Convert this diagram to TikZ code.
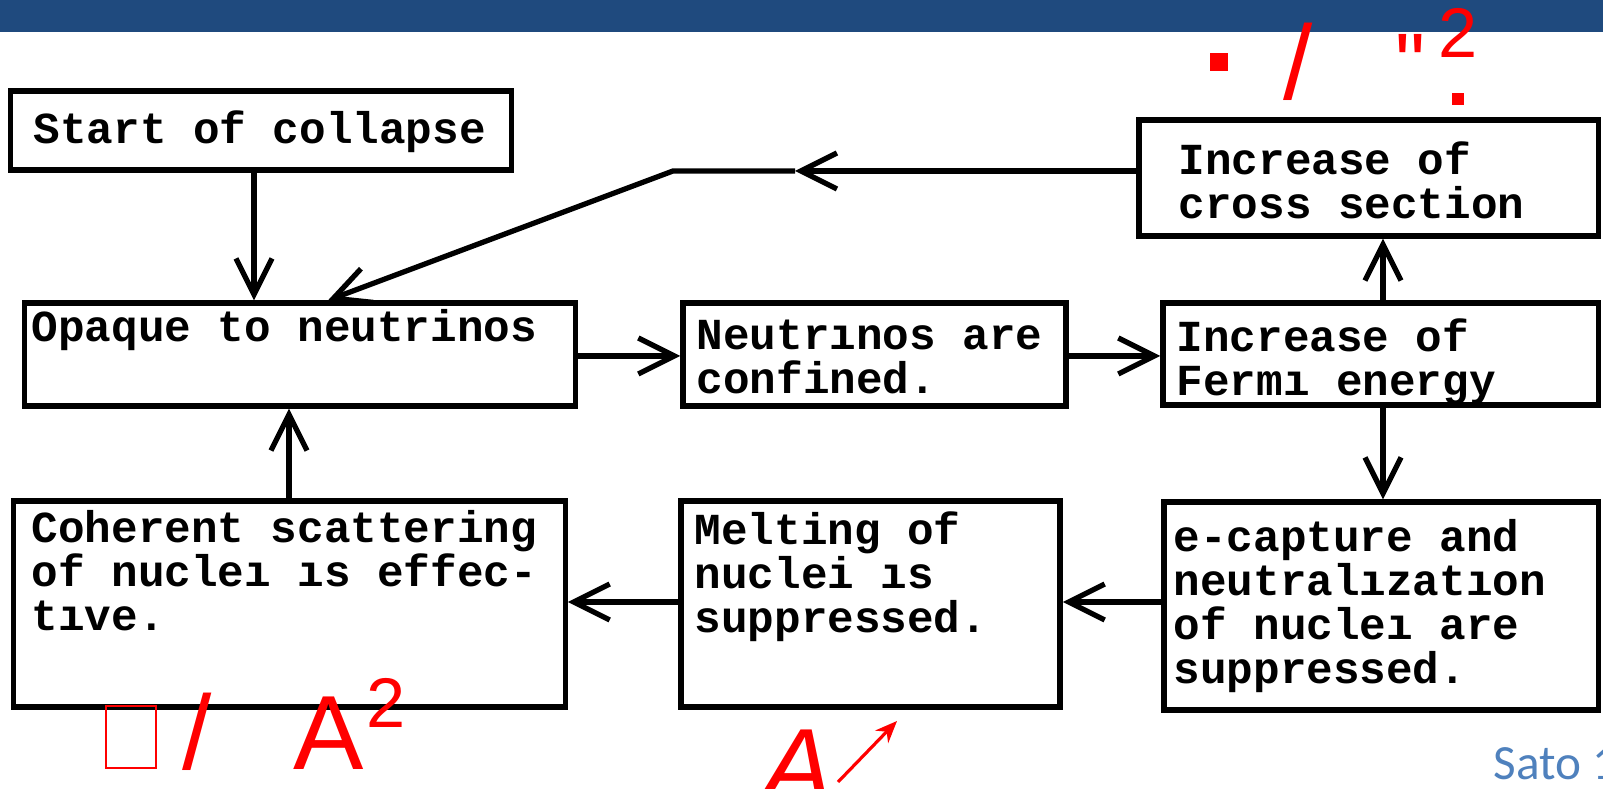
\documentclass[tikz,border=0pt]{standalone}
\usepackage{fontspec}
\usepackage{xcolor}
\usetikzlibrary{arrows.meta}
\newfontfamily\scanfont{Liberation Mono}
\newfontfamily\annfont{Liberation Sans}
\newfontfamily\citefont{Carlito}
\definecolor{slidebar}{HTML}{1F4A7E}
\definecolor{annred}{HTML}{FF0000}
\definecolor{citeblue}{HTML}{4F81BD}
\newcommand\scanfontsize{\scanfont\bfseries\fontsize{12.6pt}{12.5pt}\selectfont}
\begin{document}
\begin{tikzpicture}[x=0.01cm, y=-0.01cm,
    box/.style={draw, line width=1.5pt, inner sep=0pt},
    txt/.style={font=\scanfontsize, text width=60mm, inner sep=0pt, anchor=base west,
      execute at begin node={\spaceskip=7.56pt\relax}},
    flow/.style={-{Straight Barb[length=3.6mm, width=3.6mm]}, line width=1.5pt},
    ann/.style={text=annred, inner sep=0pt, anchor=base west},
    annbig/.style={ann, font=\annfont\fontsize{30pt}{30pt}\selectfont},
    annsmall/.style={ann, font=\annfont\fontsize{20pt}{20pt}\selectfont},
    reddot/.style={fill=annred, inner sep=0pt}]
    \useasboundingbox (0,0) rectangle (1603,789);
    \fill[slidebar] (0,0) rectangle (1603,32);
    % boxes
    \node[box, minimum width=50mm, minimum height=7.9mm] (start) at (261,130.5) {};
    \node[box, minimum width=55mm, minimum height=10.3mm] (opaque) at (300,354.5) {};
    \node[box, minimum width=38.3mm, minimum height=10.3mm] (neutr) at (874.5,354.5) {};
    \node[box, minimum width=43.5mm, minimum height=10.2mm] (fermi) at (1380.5,354) {};
    \node[box, minimum width=45.9mm, minimum height=11.6mm] (cross) at (1368.5,178) {};
    \node[box, minimum width=55.1mm, minimum height=20.6mm] (coher) at (289.5,604) {};
    \node[box, minimum width=37.9mm, minimum height=20.6mm] (melt) at (870.5,604) {};
    \node[box, minimum width=43.4mm, minimum height=20.8mm] (ecap) at (1381,606) {};
    % texts
    \node[txt] (starttx) at (33,144) {Start of collapse};
    \node[txt] (opaquetx) at (31,342) {Opaque to neutrinos};
    \node[txt] (neutrtx) at (696,350) {Neutrınos are\\confined.};
    \node[txt] (fermitx) at (1176,352) {Increase of\\Fermı energy};
    \node[txt] (crosstx) at (1178,175) {Increase of\\cross section};
    \node[txt] (cohertx) at (31,543) {Coherent scattering\\of nucleı ıs effec-\\tıve.};
    \node[txt] (melttx) at (694,545) {Melting of\\nuclei ıs\\suppressed.};
    \node[txt] (ecaptx) at (1173,552) {e-capture and\\neutralızatıon\\of nucleı are\\suppressed.};
    % arrows
    \draw[flow] (start.south -| 254,0) -- (opaque.north -| 254,0);
    \draw[flow] (coher.north -| 289,0) -- (opaque.south -| 289,0);
    \draw[flow] (opaque.east |- 0,356) -- (neutr.west |- 0,356);
    \draw[flow] (neutr.east |- 0,356) -- (fermi.west |- 0,356);
    \draw[flow] (fermi.north -| 1383,0) -- (cross.south -| 1383,0);
    \draw[flow] (fermi.south -| 1383,0) -- (ecap.north -| 1383,0);
    \draw[flow] (ecap.west |- 0,602) -- (melt.east |- 0,602);
    \draw[flow] (melt.west |- 0,602) -- (coher.east |- 0,602);
    \coordinate (bend) at (673,171);
    \coordinate (midtip) at (795,171);
    \draw[flow] (cross.west |- 0,171) -- (midtip);
    \draw[flow] (midtip) -- (bend) -- (opaque.north -| 328,0);
    % red notes
    \node[reddot, minimum size=1.8mm] (dotA) at (1219,62.5) {};
    \node[annbig] (slashA) at (1283,100) {/};
    \node[ann, font=\annfont\fontsize{24pt}{24pt}\selectfont] (quoteA) at (1395,93) {\char34};
    \node[annsmall] (twoA) at (1438,58) {2};
    \node[reddot, minimum size=1.2mm] (dotB) at (1458,99) {};
    \node[draw=annred, line width=0.4pt, minimum width=5mm, minimum height=6.2mm, inner sep=0pt] (boxC) at (131,737) {};
    \node[annbig] (slashC) at (182,770) {/};
    \node[annbig] (capC) at (293,770) {A};
    \node[annsmall] (twoC) at (366,728) {2};
    \node[annbig, font=\annfont\itshape\fontsize{30pt}{30pt}\selectfont] (capD) at (762,803) {A};
    \coordinate (arrfrom) at (838,782);
    \coordinate (arrto) at (897,721);
    \draw[annred, line width=0.9pt, -{Stealth[length=2.2mm, width=1.8mm]}] (arrfrom) -- (arrto);
    \node[anchor=base west, inner sep=0pt, text=citeblue,
      font=\citefont\fontsize{14pt}{14pt}\selectfont] (cite) at (1493,780) {Sato 1};
\end{tikzpicture}
\end{document}
